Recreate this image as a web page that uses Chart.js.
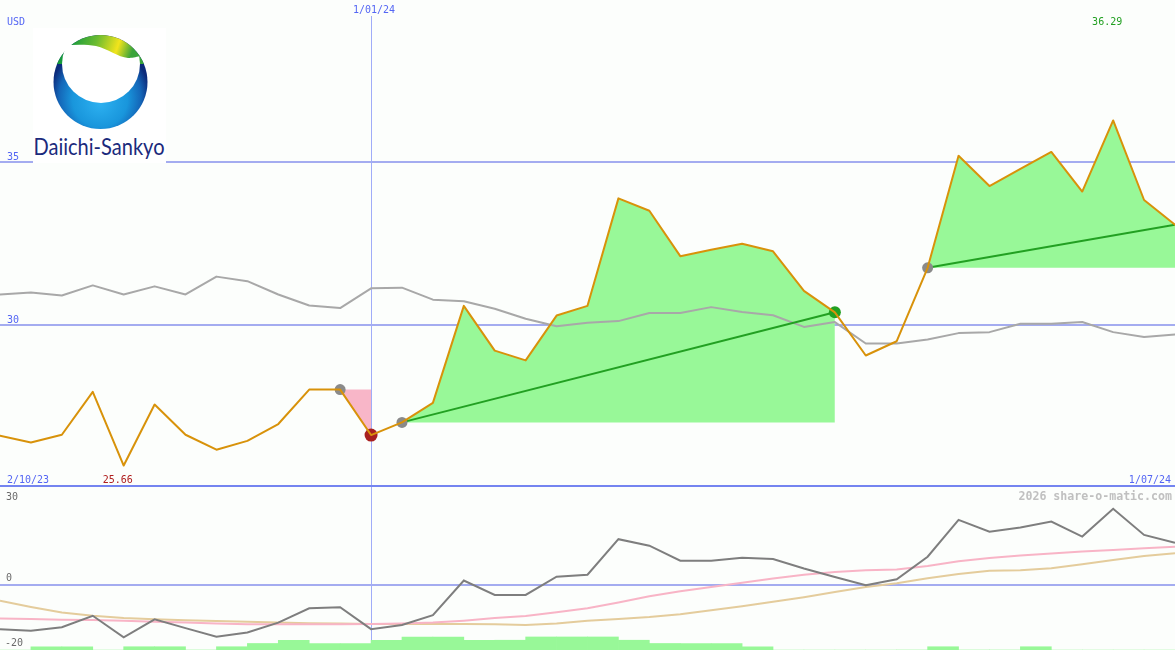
<!DOCTYPE html>
<html>
<head>
<meta charset="utf-8">
<title>Daiichi-Sankyo</title>
<script src="https://cdn.jsdelivr.net/npm/chart.js@4"></script>
<style>
  body { margin: 0; background: #fcfefc; }
  #wrap { position: relative; width: 1175px; height: 650px; overflow: hidden; }
  #priceChart { position: absolute; left: 0; top: 0; }
  #oscChart { position: absolute; left: 0; top: 487px; }
  #logo { position: absolute; left: 0; top: 0; }
</style>
</head>
<body>
<div id="wrap">
  <canvas id="priceChart" width="1175" height="487"></canvas>
  <canvas id="oscChart" width="1175" height="163"></canvas>
  <svg id="logo" width="170" height="166" viewBox="0 0 170 166">
    <defs>
      <radialGradient id="blueGrad" cx="100" cy="96" r="50" fx="100" fy="104" gradientUnits="userSpaceOnUse">
        <stop offset="0" stop-color="#2cb0f0"/>
        <stop offset="0.55" stop-color="#1996dc"/>
        <stop offset="0.82" stop-color="#1466b8"/>
        <stop offset="1" stop-color="#0c2a7a"/>
      </radialGradient>
      <linearGradient id="capGrad" x1="72" y1="38" x2="130" y2="58" gradientUnits="userSpaceOnUse">
        <stop offset="0" stop-color="#169a3c"/>
        <stop offset="0.4" stop-color="#6cbc30"/>
        <stop offset="0.75" stop-color="#f2e41c"/>
        <stop offset="1" stop-color="#3aa43a"/>
      </linearGradient>
      <clipPath id="outerClip"><circle cx="100.5" cy="82" r="47"/></clipPath>
      <clipPath id="belowWave"><path d="M40 47 C62 46 80 43 96 46 C108 49 118 57 128 58 C136 58 142 55 160 51 L160 150 L40 150 Z"/></clipPath>
    </defs>
    <rect x="33" y="28" width="133" height="135" fill="#ffffff"/>
    <circle cx="100.5" cy="82" r="47" fill="url(#blueGrad)"/>
    <rect x="50" y="30" width="102" height="34" fill="url(#capGrad)" clip-path="url(#outerClip)"/>
    <g clip-path="url(#belowWave)">
      <circle cx="101" cy="64" r="39" fill="#ffffff"/>
    </g>
    <text x="33.5" y="155" font-family="Lato, 'Open Sans', sans-serif" font-size="22.5" fill="#1b2a7c" textLength="131" lengthAdjust="spacingAndGlyphs">Daiichi-Sankyo</text>
  </svg>
</div>

<script>
// Weekly closes, USD (index 0 = 2/10/23, last = 1/07/24)
const price = [
  26.58, 26.37, 26.61, 27.93, 25.66, 27.54, 26.61, 26.15, 26.42, 26.94,
  28.00, 28.00, 26.60, 26.99, 27.59, 30.58, 29.20, 28.90, 30.28, 30.58,
  33.89, 33.51, 32.11, 32.31, 32.49, 32.26, 31.04, 30.38, 29.05, 29.49,
  31.75, 35.20, 34.27, 34.80, 35.32, 34.10, 36.29, 33.84, 33.08
];
// Moving average (grey)
const avgLine = [
  30.93, 30.99, 30.90, 31.21, 30.93, 31.18, 30.93, 31.48, 31.34, 30.93,
  30.59, 30.51, 31.12, 31.14, 30.77, 30.72, 30.49, 30.18, 29.95, 30.06,
  30.11, 30.36, 30.36, 30.54, 30.39, 30.29, 29.93, 30.08, 29.42, 29.42,
  29.54, 29.74, 29.77, 30.03, 30.03, 30.08, 29.77, 29.62, 29.70
];

// Lower panel
const momentum = [
  -13.6, -14.1, -13.0, -9.5, -16.1, -10.6, -13.3, -15.9, -14.6, -11.6,
  -7.2, -6.9, -13.6, -12.3, -9.3, 1.3, -3.1, -3.1, 2.5, 3.1,
  14.0, 12.0, 7.4, 7.4, 8.3, 7.9, 5.0, 2.4, -0.1, 1.7,
  8.6, 19.9, 16.3, 17.6, 19.4, 14.8, 23.3, 15.3, 12.9
];
const fastAvg = [
  -10.3, -10.5, -10.7, -10.8, -11.0, -11.3, -11.6, -11.9, -12.1, -12.1,
  -12.1, -12.1, -12.0, -11.9, -11.6, -11.0, -10.2, -9.6, -8.4, -7.2,
  -5.4, -3.5, -2.0, -0.7, 0.6, 1.9, 3.1, 3.9, 4.5, 4.7,
  5.8, 7.2, 8.2, 9.0, 9.6, 10.2, 10.7, 11.2, 11.7
];
const slowAvg = [
  -4.9, -6.8, -8.5, -9.5, -10.2, -10.6, -10.9, -11.1, -11.3, -11.6,
  -11.8, -11.9, -12.0, -12.0, -12.0, -12.0, -12.1, -12.3, -11.9, -11.0,
  -10.5, -9.9, -9.0, -7.8, -6.6, -5.2, -3.8, -2.2, -0.7, 0.5,
  2.0, 3.3, 4.3, 4.5, 5.1, 6.3, 7.6, 8.8, 9.7
];
// Green bars, one per week interval
const volBars = [
  0, 1, 1, 0, 1, 1, 0, 1, 2, 3, 2, 2, 3, 4, 4, 3, 3, 4, 4,
  4, 3, 2, 2, 2, 1, 0, 0, 0, 0, 0, 1, 0, 0, 1, 0, 0, 0, 0
];

// Trades: entry / exit week indexes
const gainStart = [13, 30];
const gainEnd = [27, 38];
const lossStart = 11;
const lossEnd = 12;
const markerIdx = [11, 12, 13, 27, 30];
const markerColors = ['#8a8a8a', '#a82020', '#8a8a8a', '#22a022', '#8a8a8a'];
const markerSizes = [5.5, 6.5, 5.5, 6, 5.5];

const priceTicks = [30, 35];
const oscTicks = [30, 0, -20];
const firstDate = '2/10/23';
const lastDate = '1/07/24';
const yearMark = { idx: 12, label: '1/01/24' };
const lowIdx = 4;
const highIdx = 36;

const MONO = '"DejaVu Sans Mono", monospace';
const toXY = (arr, from = 0) => arr.map((v, i) => ({ x: i + from, y: v }));

// ---------- top panel ----------
const priceDatasets = [];

priceDatasets.push({
  label: 'price', data: toXY(price), order: 0,
  borderColor: '#d8920a', borderWidth: 2, pointRadius: 0, tension: 0, fill: false
});
priceDatasets.push({
  label: 'markers', order: 1, showLine: false,
  data: markerIdx.map(i => ({ x: i, y: price[i] })),
  pointRadius: markerSizes, pointBackgroundColor: markerColors,
  pointBorderWidth: 0, borderWidth: 0
});
gainStart.forEach((s, k) => {
  const e = gainEnd[k];
  priceDatasets.push({
    label: 'trend' + k, order: 2,
    data: [{ x: s, y: price[s] }, { x: e, y: price[e] }],
    borderColor: '#22a022', borderWidth: 2, pointRadius: 0, fill: false
  });
  priceDatasets.push({
    label: 'gain' + k, order: 4,
    data: toXY(price.slice(s, e + 1), s),
    borderWidth: 0, pointRadius: 0,
    backgroundColor: '#98f898', fill: { value: price[s] }
  });
});
priceDatasets.push({
  label: 'avg', data: toXY(avgLine), order: 3,
  borderColor: '#a8a8a8', borderWidth: 2, pointRadius: 0, fill: false
});
priceDatasets.push({
  label: 'loss', order: 4,
  data: toXY(price.slice(lossStart, lossEnd + 1), lossStart),
  borderWidth: 0, pointRadius: 0,
  backgroundColor: '#f8b6c8', fill: { value: price[lossStart] }
});

const topDecor = {
  id: 'topDecor',
  beforeDatasetsDraw(chart) {
    const { ctx, scales: { x, y }, width, height } = chart;
    ctx.save();
    ctx.fillStyle = '#a4acf0';
    priceTicks.forEach(t => {
      const py = Math.round(y.getPixelForValue(t));
      ctx.fillRect(0, py - 1, width, 2);
    });
    ctx.fillStyle = '#a0acf8';
    const vx = Math.round(x.getPixelForValue(yearMark.idx));
    ctx.fillRect(vx, 16, 1, height - 16);
    ctx.restore();
  },
  afterDatasetsDraw(chart) {
    const { ctx, scales: { x, y }, width, height } = chart;
    ctx.save();
    ctx.fillStyle = '#7484f0';
    ctx.fillRect(0, height - 2, width, 2);

    ctx.font = '10px ' + MONO;
    ctx.textBaseline = 'alphabetic';
    ctx.fillStyle = '#5466f4';
    ctx.textAlign = 'left';
    ctx.fillText('USD', 7, 25);
    priceTicks.forEach(t => ctx.fillText(String(t), 7, y.getPixelForValue(t) - 2));
    ctx.fillText(firstDate, 7, 483);
    ctx.textAlign = 'center';
    ctx.fillText(yearMark.label, x.getPixelForValue(yearMark.idx) + 3, 13);
    ctx.textAlign = 'right';
    ctx.fillText(lastDate, 1171, 483);

    ctx.textAlign = 'center';
    ctx.fillStyle = '#b02020';
    ctx.fillText(price[lowIdx].toFixed(2), x.getPixelForValue(lowIdx) - 6, 483);
    ctx.fillStyle = '#22a022';
    ctx.fillText(price[highIdx].toFixed(2), x.getPixelForValue(highIdx) - 6, 25);
    ctx.restore();
  }
};

new Chart(document.getElementById('priceChart'), {
  type: 'line',
  data: { datasets: priceDatasets },
  options: {
    responsive: false,
    animation: false,
    layout: { padding: 0, autoPadding: false },
    plugins: { legend: { display: false }, tooltip: { enabled: false } },
    elements: { line: { borderCapStyle: 'round', borderJoinStyle: 'round' } },
    scales: {
      x: { type: 'linear', min: 0, max: price.length - 1, display: false },
      y: { min: 25, max: 40, display: false }
    }
  },
  plugins: [topDecor]
});

// ---------- bottom panel ----------
const oscDecor = {
  id: 'oscDecor',
  beforeDatasetsDraw(chart) {
    const { ctx, scales: { x, y }, width, height } = chart;
    ctx.save();
    ctx.fillStyle = '#a4acf0';
    const zy = Math.round(y.getPixelForValue(0));
    ctx.fillRect(0, zy - 1, width, 2);
    ctx.fillStyle = '#a0acf8';
    ctx.fillRect(Math.round(x.getPixelForValue(yearMark.idx)), 0, 1, height);
    ctx.restore();
  },
  afterDatasetsDraw(chart) {
    const { ctx, scales: { y } } = chart;
    ctx.save();
    ctx.font = '10px ' + MONO;
    ctx.fillStyle = '#6a6a6a';
    ctx.textAlign = 'left';
    ctx.fillText(String(oscTicks[0]), 6, 12.5);
    ctx.fillText(String(oscTicks[1]), 6, y.getPixelForValue(oscTicks[1]) - 4);
    ctx.fillText(String(oscTicks[2]), 5, 158.5);
    ctx.font = 'bold 11.6px ' + MONO;
    ctx.fillStyle = '#c0c0c0';
    ctx.textAlign = 'right';
    ctx.fillText('2026 share-o-matic.com', 1172, 13);
    ctx.restore();
  }
};

new Chart(document.getElementById('oscChart'), {
  type: 'line',
  data: {
    datasets: [
      { label: 'momentum', data: toXY(momentum), order: 0,
        borderColor: '#7e7e7e', borderWidth: 2, pointRadius: 0, fill: false },
      { label: 'fast', data: toXY(fastAvg), order: 1,
        borderColor: '#f8b4c6', borderWidth: 2, pointRadius: 0, fill: false },
      { label: 'slow', data: toXY(slowAvg), order: 2,
        borderColor: '#e4cc9c', borderWidth: 2, pointRadius: 0, fill: false },
      { label: 'bars', type: 'bar', order: 3,
        data: volBars.map((v, i) => ({ x: i + 0.5, y: [-20, -20 + v] })),
        backgroundColor: '#98f898', borderWidth: 0,
        barPercentage: 1, categoryPercentage: 1 }
    ]
  },
  options: {
    responsive: false,
    animation: false,
    layout: { padding: 0, autoPadding: false },
    plugins: { legend: { display: false }, tooltip: { enabled: false } },
    scales: {
      x: { type: 'linear', min: 0, max: price.length - 1, display: false, offset: false },
      y: { min: -20, max: 30, display: false }
    }
  },
  plugins: [oscDecor]
});
</script>
</body>
</html>
